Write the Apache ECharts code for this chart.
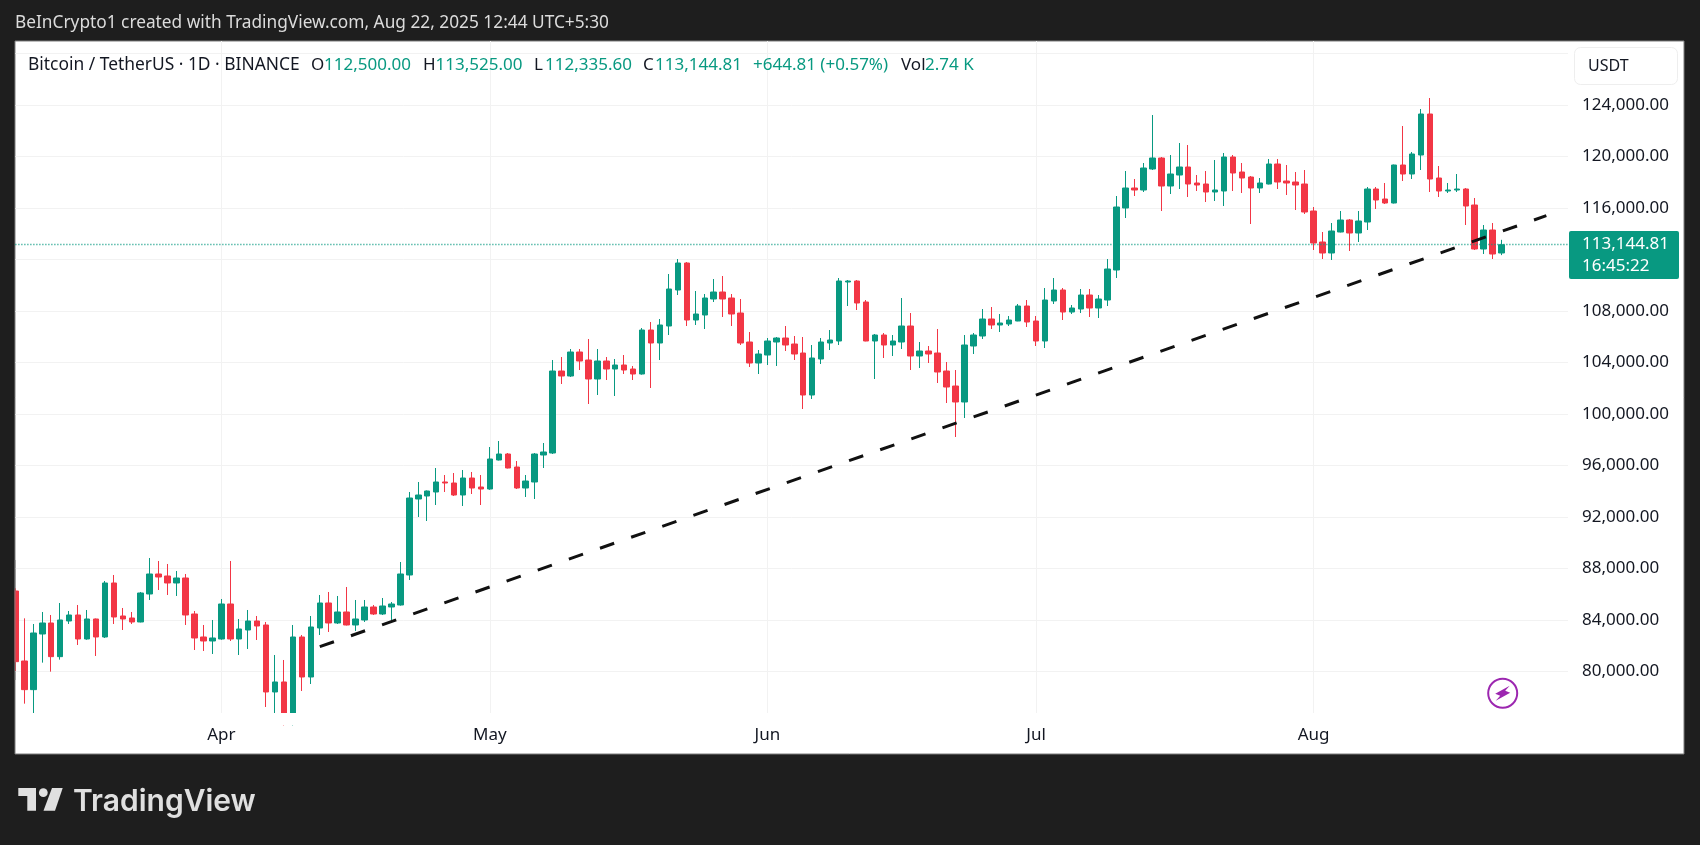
<!DOCTYPE html>
<html lang="en">
  <head>
    <meta charset="utf-8" />
    <title>Bitcoin / TetherUS 1D</title>
    <script src="https://cdn.jsdelivr.net/npm/echarts@6/dist/echarts.min.js"></script>
    <style>
      html, body { margin: 0; padding: 0; background: #1e1e1e; }
      #chart { width: 1700px; height: 845px; }
    </style>
  </head>
  <body>
    <div id="chart"></div>
    <script>
      var days = [
        '03-09','03-10','03-11','03-12','03-13','03-14','03-15','03-16','03-17','03-18','03-19','03-20','03-21','03-22','03-23','03-24','03-25','03-26','03-27','03-28','03-29','03-30','03-31',
        '04-01','04-02','04-03','04-04','04-05','04-06','04-07','04-08','04-09','04-10','04-11','04-12','04-13','04-14','04-15','04-16','04-17','04-18','04-19','04-20','04-21','04-22','04-23','04-24','04-25','04-26','04-27','04-28','04-29','04-30',
        '05-01','05-02','05-03','05-04','05-05','05-06','05-07','05-08','05-09','05-10','05-11','05-12','05-13','05-14','05-15','05-16','05-17','05-18','05-19','05-20','05-21','05-22','05-23','05-24','05-25','05-26','05-27','05-28','05-29','05-30','05-31',
        '06-01','06-02','06-03','06-04','06-05','06-06','06-07','06-08','06-09','06-10','06-11','06-12','06-13','06-14','06-15','06-16','06-17','06-18','06-19','06-20','06-21','06-22','06-23','06-24','06-25','06-26','06-27','06-28','06-29','06-30',
        '07-01','07-02','07-03','07-04','07-05','07-06','07-07','07-08','07-09','07-10','07-11','07-12','07-13','07-14','07-15','07-16','07-17','07-18','07-19','07-20','07-21','07-22','07-23','07-24','07-25','07-26','07-27','07-28','07-29','07-30','07-31',
        '08-01','08-02','08-03','08-04','08-05','08-06','08-07','08-08','08-09','08-10','08-11','08-12','08-13','08-14','08-15','08-16','08-17','08-18','08-19','08-20','08-21','08-22'
      ]
      var opens = [
        86238,80799,78572,82897,83752,81136,83907,84373,82509,84063,82664,86860,84296,84140,83830,86005,87559,87404,86860,87248,84451,82664,82353,
        82509,85228,82509,83208,83907,83596,78391,79168,76300,82664,79556,83363,85306,83752,84607,83596,83985,84995,84451,84995,85150,87481,93386,93619,93930,94707,94629,93696,95017,94318,
        94163,96416,96882,95872,94240,94707,96804,96960,103331,102943,104808,104186,102710,104108,103487,103797,103487,103098,106517,105507,106828,109625,111723,107294,107682,108926,109470,109003,107838,105585,103953,
        104574,105585,105895,105429,104730,101466,104264,105507,105662,110247,110324,108693,105662,106128,105351,105585,106828,104497,104885,104730,103331,102166,100923,105274,106051,107372,106905,106983,107216,108382,
        107216,105662,108770,109625,107916,108149,109236,108226,108848,111179,115996,117550,117395,119027,119881,117706,118560,119182,117939,117861,117240,117317,119959,118794,118405,117550,117861,119415,118094,118017,117861,
        115763,113355,112500,114132,115064,114054,114909,117473,116696,116385,119337,118638,120114,123300,118327,117317,117395,117473,116229,112811,114287,112500
      ]
      var closes = [
        80747,78572,82975,83752,81136,83985,84373,82509,84063,82664,86860,84218,84063,83830,86083,87559,87326,86860,87248,84373,82586,82353,82586,
        85228,82509,83286,83907,83519,78391,79168,76300,82664,79556,83441,85306,83752,84607,83596,84063,84995,84451,85073,85228,87559,93463,93696,94007,94707,94629,93696,95017,94240,94163,
        96494,96882,95794,94240,94784,96882,97038,103331,102943,104808,104108,102710,104108,103487,103797,103409,103098,106517,105507,106905,109703,111723,107294,107760,109003,109470,108926,107760,105507,103953,104652,
        105662,105895,105351,104652,101466,104341,105585,105740,110324,110324,108615,105662,106128,105351,105662,106828,104497,104885,104652,103254,102088,100923,105351,106128,107372,106905,107061,107294,108382,107139,
        105662,108848,109625,107916,108226,109236,108226,108926,111257,116074,117550,117395,119104,119881,117706,118638,119182,117861,117783,117240,117395,119959,118716,118327,117550,117939,119415,118017,117939,117783,115686,
        113277,112500,114209,115064,114054,114986,117473,116618,116385,119337,118638,120192,123300,118250,117317,117395,117473,116152,112811,114287,112422,113144.81
      ]
      var lows = [
        80022,77484,76681,80670,79970,80903,83674,82042,82450,81188,82586,83674,83208,83674,83800,85539,86316,85927,85850,83596,81654,81576,81343,
        82450,82353,81265,81732,82431,77225,76400,75800,75800,78468,79012,82819,83053,83674,83560,83130,83830,84373,84373,83985,85100,87093,91987,91676,92919,93930,93619,92842,93774,92919,
        94100,96380,95760,94163,93541,93386,95794,96882,102321,102865,103409,100767,101466,102632,101389,103098,102632,103050,102010,104186,106128,109236,106828,106905,106595,108693,107527,106828,105351,103642,103098,
        103797,103720,104885,104186,100379,101156,103875,104963,105351,108382,108071,105640,102710,104341,104497,105041,103409,103564,103953,102399,100845,98203,99679,104652,105818,106595,106362,106828,107200,106750,
        105274,105118,108537,107294,107760,107838,107527,107449,108382,110557,115219,116929,117240,118949,115763,117084,117473,116851,117317,116463,116540,116152,117317,117162,114753,117162,117830,117473,117006,115841,115530,
        112733,112034,111956,114100,112655,113355,114287,115919,116307,116350,118094,118250,118949,117240,116851,117162,117240,114675,112733,112422,112034,112335.6
      ]
      var highs = [
        86446,84114,83674,84607,84373,85306,84684,85150,84762,84100,87015,87481,84917,84607,86161,88802,88569,88336,87792,87559,84684,83596,83985,
        85617,88569,84063,84762,84296,83830,81265,80877,83596,82819,84296,85927,86161,85850,86549,85539,85539,85150,85694,85384,88492,93930,94707,94050,95794,95250,95406,95639,95484,95250,
        97426,97892,96960,96338,95250,96960,97737,104186,104419,105041,105041,105818,105041,104419,104264,104574,103720,106672,107139,107372,110868,112034,111800,109547,109314,110480,110713,109314,108926,106362,104963,
        105895,105973,106828,106051,105973,105351,105895,106517,110557,110402,110402,108848,106206,106284,106128,109003,107838,105585,105274,106595,104031,103409,106128,106284,108149,108304,107760,107605,108537,108848,
        107605,109780,110557,109780,108459,109703,109703,109236,112034,116929,118871,118250,119493,123222,119959,120114,121047,120891,118560,118871,119726,120270,120114,119493,118483,118327,119804,119804,119337,118794,118949,
        116074,114132,114831,115763,115142,115763,117628,117628,117939,119370,122368,120348,123689,124543,119260,117939,118638,117550,116773,114675,114831,113525
      ]

      // dashed support line, two anchors, x counted in days from 03-09
      var trendDays = [34, 171]
      var trendPrices = [81910, 115400]

      // month starts, x counted in days from 03-09
      var monthDays = [23, 53, 84, 114, 145]
      var monthLabels = ['Apr', 'May', 'Jun', 'Jul', 'Aug']
      var gridPrices = [80000, 84000, 88000, 92000, 96000, 100000, 104000, 108000, 112000, 116000, 120000, 124000, 128000]
      var labelPrices = [80000, 84000, 88000, 92000, 96000, 100000, 104000, 108000, 112000, 116000, 120000, 124000]
      var lastClose = 113144.81

      var UP = '#089981'
      var DOWN = '#F23645'
      var INK = '#131722'
      var DARK = '#1e1e1e'
      var FONT = '"Noto Sans", sans-serif'

      function text(x, y, str, color, size, weight) {
        return {
          type: 'text', x: x, y: y, z: 30,
          style: { text: str, fill: color, font: (weight || 'normal') + ' ' + size + 'px ' + FONT, verticalAlign: 'middle' }
        }
      }

      var candles = days.map(function (d, i) {
        return [i, opens[i], closes[i], lows[i], highs[i]]
      })

      var graphics = [
        // white chart panel
        { type: 'rect', z: -1, silent: true, shape: { x: 15, y: 41, width: 1669, height: 713 }, style: { fill: '#fff', stroke: '#7d7d7d', lineWidth: 1 } },
        // candlestick series does not clip single boxes, so trim the overflow at the pane edges
        { type: 'rect', z: 10, silent: true, shape: { x: 8, y: 560, width: 6.5, height: 120 }, style: { fill: DARK } },
        { type: 'line', z: 10, silent: true, shape: { x1: 15, y1: 560, x2: 15, y2: 680 }, style: { stroke: '#7d7d7d', lineWidth: 1 } },
        { type: 'rect', z: 10, silent: true, shape: { x: 16, y: 713, width: 1552, height: 12 }, style: { fill: '#fff' } },
        text(15, 23, 'BeInCrypto1 created with TradingView.com, Aug 22, 2025 12:44 UTC+5:30', '#dcdcdc', 17.3),
        // legend row
        text(28, 65, 'Bitcoin / TetherUS · 1D · BINANCE', INK, 17.4),
        text(311, 65, 'O', INK, 17), text(324, 65, '112,500.00', UP, 17),
        text(423, 65, 'H', INK, 17), text(435.5, 65, '113,525.00', UP, 17),
        text(534, 65, 'L', INK, 17), text(545, 65, '112,335.60', UP, 17),
        text(643, 65, 'C', INK, 17), text(655, 65, '113,144.81', UP, 17),
        text(753, 65, '+644.81 (+0.57%)', UP, 17),
        text(901, 65, 'Vol', INK, 17), text(925, 65, '2.74 K', UP, 17),
        // currency button
        { type: 'rect', z: 20, silent: true, shape: { x: 1574.5, y: 47.5, width: 103, height: 37, r: 6 }, style: { fill: '#fff', stroke: '#eeeeee', lineWidth: 1 } },
        text(1588, 66, 'USDT', INK, 16),
        // last price tag
        { type: 'rect', z: 20, silent: true, shape: { x: 1569, y: 231, width: 110, height: 48, r: 2 }, style: { fill: UP } },
        text(1582, 244, '113,144.81', '#fff', 17),
        text(1582, 266, '16:45:22', '#fff', 17),
        // purple flash badge
        { type: 'circle', z: 20, silent: true, shape: { cx: 1502.7, cy: 693.3, r: 14.5 }, style: { fill: 'none', stroke: '#9c27b0', lineWidth: 2 } },
        { type: 'polygon', z: 20, silent: true, x: 1502.7, y: 693.3,
          shape: { points: [[7, -7.5], [-7.5, 0.5], [-2.5, 2.5], [-7, 7.5], [7.5, -0.5], [2.5, -2.5]] }, style: { fill: '#9c27b0' } },
        // TradingView logo
        { type: 'polygon', z: 20, silent: true, shape: { points: [[18.3, 788], [36, 788], [36, 810.7], [27.3, 810.7], [27.3, 796], [18.3, 796]] }, style: { fill: '#e0e0e0' } },
        { type: 'circle', z: 20, silent: true, shape: { cx: 43.3, cy: 792.7, r: 4.4 }, style: { fill: '#e0e0e0' } },
        { type: 'polygon', z: 20, silent: true, shape: { points: [[52, 788], [62.7, 788], [55, 810.7], [43.5, 810.7]] }, style: { fill: '#e0e0e0' } },
        {
          type: 'text', x: 73, y: 801.5, z: 30,
          style: { text: 'TradingView', fill: '#e0e0e0', font: '600 30px Inter, sans-serif', verticalAlign: 'middle' }
        }
      ]

      var chart = echarts.init(document.getElementById('chart'))
      chart.setOption({
        animation: false,
        backgroundColor: DARK,
        textStyle: { fontFamily: FONT },
        grid: { left: 15.4, right: 132, top: 41, bottom: 132 },
        xAxis: {
          type: 'value',
          min: 0,
          max: 173.42,
          axisLine: { show: false },
          axisTick: { show: false, customValues: monthDays },
          splitLine: { show: true, lineStyle: { color: '#f2f2f2', width: 1 } },
          axisLabel: {
            customValues: monthDays,
            formatter: function (v) { return monthLabels[monthDays.indexOf(v)] },
            color: INK, fontSize: 17, margin: 14, fontFamily: FONT
          }
        },
        yAxis: {
          type: 'value',
          position: 'right',
          min: 76758,
          max: 128973,
          axisLine: { show: false },
          axisTick: { show: false, customValues: gridPrices },
          splitLine: { show: true, lineStyle: { color: '#f2f2f2', width: 1 } },
          axisLabel: {
            customValues: labelPrices,
            formatter: function (v) { return v.toLocaleString('en-US', { minimumFractionDigits: 2 }) },
            color: INK, fontSize: 17, margin: 14, fontFamily: FONT
          }
        },
        series: [
          {
            type: 'candlestick',
            data: candles,
            barWidth: 6,
            itemStyle: { color: UP, color0: DOWN, borderColor: UP, borderColor0: DOWN, borderWidth: 1 },
            markLine: {
              silent: true,
              symbol: 'none',
              label: { show: false },
              lineStyle: { color: UP, type: [1, 2], width: 1.4 },
              data: [{ yAxis: lastClose }]
            }
          },
          {
            type: 'line',
            data: trendDays.map(function (d, i) { return [d, trendPrices[i]] }),
            symbol: 'none',
            z: 5,
            lineStyle: { color: '#111111', width: 3, type: [15, 18], cap: 'butt' }
          }
        ],
        graphic: graphics
      })
    </script>
  </body>
</html>
